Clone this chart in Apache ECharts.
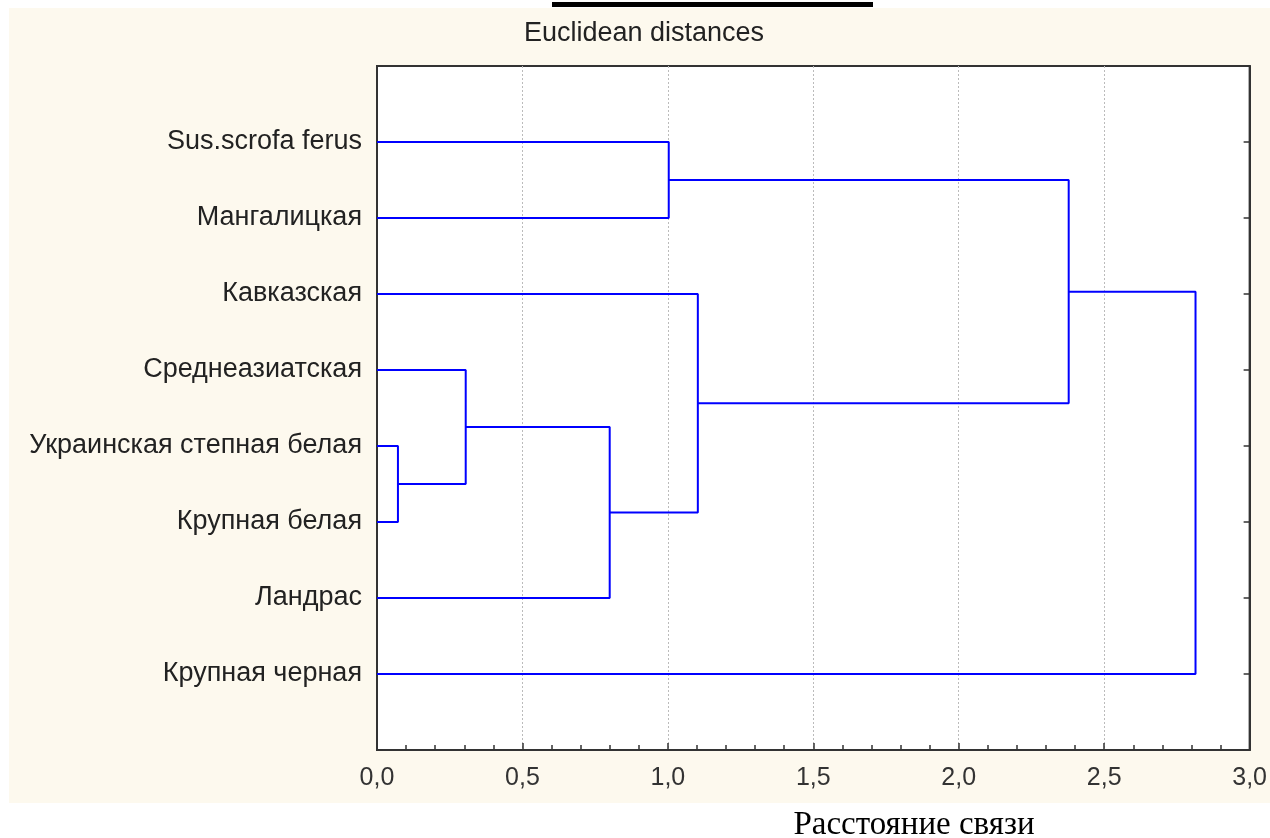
<!DOCTYPE html>
<html><head><meta charset="utf-8">
<script src="https://cdn.jsdelivr.net/npm/echarts@6/dist/echarts.min.js"></script>
<style>html,body{margin:0;padding:0;background:#fff}#c{width:1270px;height:838px}</style>
</head><body><div id="c"></div>
<script>
// Leaves, top to bottom
const labels = ['Sus.scrofa ferus','Мангалицкая','Кавказская','Среднеазиатская','Украинская степная белая','Крупная белая','Ландрас','Крупная черная'];
// Linkage: [node a, node b, distance]; leaves are 0..7, new clusters get ids 8.. in order
const merges = [
  [4, 5, 0.072],   // 8
  [3, 8, 0.305],   // 9
  [9, 6, 0.800],   // 10
  [2, 10, 1.103],  // 11
  [0, 1, 1.003],   // 12
  [12, 11, 2.378], // 13
  [13, 7, 2.814]   // 14
];
const xTicks = [0, 0.5, 1.0, 1.5, 2.0, 2.5, 3.0];

// build dendrogram segments from linkage data
const nodeX = [], nodeY = [];
labels.forEach((l, i) => { nodeX[i] = 0; nodeY[i] = i + 1; });
const segs = [];
merges.forEach((m, k) => {
  const a = m[0], b = m[1], d = m[2];
  const id = labels.length + k;
  segs.push([nodeX[a], nodeY[a]], [d, nodeY[a]], [d, nodeY[b]], [nodeX[b], nodeY[b]], [null, null]);
  nodeX[id] = d; nodeY[id] = (nodeY[a] + nodeY[b]) / 2;
});

const chart = echarts.init(document.getElementById('c'), null, {renderer: 'canvas'});
const fmt = v => v.toFixed(1).replace('.', ',');
const SANS = '"Liberation Sans", Arial, sans-serif';
chart.setOption({
  backgroundColor: '#ffffff',
  animation: false,
  graphic: [
    {type: 'rect', z: -10, shape: {x: 9, y: 8, width: 1261, height: 795}, style: {fill: '#fdf9ee'}},
    {type: 'rect', z: 10, shape: {x: 552, y: 2, width: 321, height: 5}, style: {fill: '#000'}},
    {type: 'text', style: {text: 'Euclidean distances', x: 644, y: 34, fill: '#222', font: '27px ' + SANS, textAlign: 'center', textVerticalAlign: 'middle'}},
    {type: 'text', style: {text: 'Расстояние связи', x: 914, y: 825, fill: '#000', font: '33px "Liberation Serif", "Times New Roman", serif', textAlign: 'center', textVerticalAlign: 'middle'}}
  ],
  grid: {left: 377, top: 66, width: 873, height: 684, show: true, backgroundColor: '#ffffff', borderColor: '#333', borderWidth: 2},
  xAxis: [{
    type: 'value', min: 0, max: 3, interval: 0.5, position: 'bottom',
    axisLine: {show: true, onZero: false, lineStyle: {color: '#333', width: 2}},
    axisTick: {show: true, inside: true, length: 7, lineStyle: {color: '#333', width: 1.5}},
    minorTick: {show: true, splitNumber: 5, length: 5, lineStyle: {color: '#333', width: 1.5}},
    axisLabel: {margin: 16, fontSize: 25, color: '#333', fontFamily: SANS, formatter: v => xTicks.indexOf(v) >= 0 ? fmt(v) : ''},
    splitLine: {show: true, lineStyle: {color: '#bbbbbb', type: [2, 2], width: 1}}
  }],
  yAxis: [{
    type: 'value', min: 0, max: 9, interval: 1, inverse: true, position: 'left',
    axisLine: {show: true, onZero: false, lineStyle: {color: '#333', width: 2}},
    axisTick: {show: true, inside: true, length: 6, lineStyle: {color: '#333', width: 1.5}},
    axisLabel: {margin: 15, fontSize: 27, color: '#222', fontFamily: SANS, formatter: v => (v >= 1 && v <= labels.length) ? labels[v - 1] : ''},
    splitLine: {show: false}
  }, {
    type: 'value', min: 0, max: 9, interval: 1, inverse: true, position: 'right',
    axisLine: {show: true, onZero: false, lineStyle: {color: '#333', width: 2}},
    axisTick: {show: true, inside: true, length: 6, lineStyle: {color: '#333', width: 1.5}},
    axisLabel: {show: false}, splitLine: {show: false}
  }],
  series: [{
    type: 'line', data: segs, connectNulls: false, symbol: 'none', silent: true,
    lineStyle: {color: '#0000ff', width: 2}, z: 5
  }]
});
</script></body></html>
